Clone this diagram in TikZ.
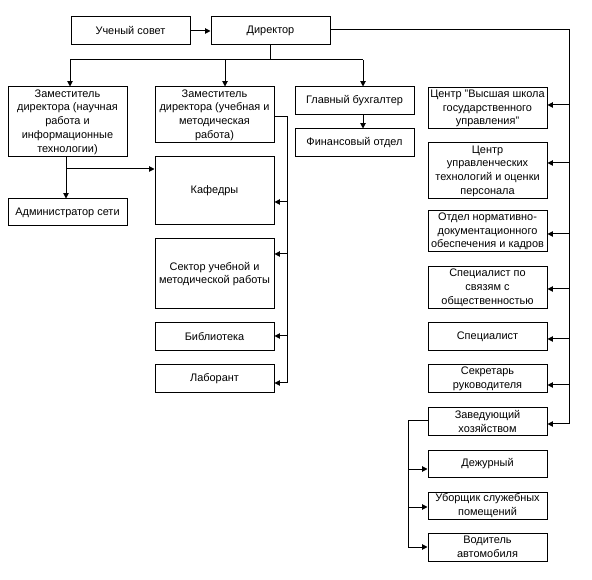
\documentclass[tikz,border=0pt]{standalone}
\usepackage{fontspec}
\setmainfont{Liberation Sans}
\usetikzlibrary{arrows.meta,calc}
\begin{document}
\begin{tikzpicture}[x=0.75pt,y=-0.75pt,
  box/.style={draw,line width=0.75pt,minimum width=89.25pt,inner xsep=1pt,inner ysep=0pt,align=center,
    font=\fontsize{8.2}{10.3}\selectfont},
  ln/.style={line width=0.75pt},
  arr/.style={line width=0.75pt,-{Triangle[length=4pt,width=4pt]}}]
\useasboundingbox (0,0) rectangle (592,580);
\fill[white] (0,0) rectangle (592,580);
% top row
\node[box,minimum height=21pt] (sovet) at (130.5,31) {Ученый совет};
\node[box,minimum height=21pt] (dir) at (270.5,31) {Директор};
% second row
\node[box,minimum height=52.5pt] (zam1) at (67.5,122) {Заместитель\\директора (научная\\работа и\\информационные\\технологии)};
\node[box,minimum height=42pt] (zam2) at (214.5,115) {Заместитель\\директора (учебная и\\методическая\\работа)};
\node[box,minimum height=21pt] (buh) at (354.5,101) {Главный бухгалтер};
\node[box,minimum height=21pt] (fin) at (354.5,143) {Финансовый отдел};
\node[box,minimum height=20.25pt] (adm) at (67.5,212.5) {Администратор сети};
% middle column
\node[box,minimum height=51pt] (kaf) at (214.5,191) {Кафедры};
\node[box,minimum height=52.5pt] (sek1) at (214.5,274) {Сектор учебной и\\методической работы};
\node[box,minimum height=21pt] (bib) at (214.5,337) {Библиотека};
\node[box,minimum height=21pt] (lab) at (214.5,379) {Лаборант};
% right column
\node[box,minimum height=30.75pt] (c1) at (487.5,108.5) {Центр "Высшая школа\\государственного\\управления"};
\node[box,minimum height=42pt] (c2) at (487.5,171) {Центр\\управленческих\\технологий и оценки\\персонала};
\node[box,minimum height=30.75pt] (otd) at (487.5,231.5) {Отдел нормативно-\\документационного\\обеспечения и кадров};
\node[box,minimum height=31.5pt] (spsv) at (487.5,288) {Специалист по\\связям с\\общественностью};
\node[box,minimum height=21pt] (sp) at (487.5,337) {Специалист};
\node[box,minimum height=21pt] (sekr) at (487.5,379) {Секретарь\\руководителя};
\node[box,minimum height=20.25pt] (zav) at (487.5,421.5) {Заведующий\\хозяйством};
\node[box,minimum height=20.25pt] (dej) at (487.5,463.5) {Дежурный};
\node[box,minimum height=20.25pt] (ub) at (487.5,505.5) {Уборщик служебных\\помещений};
\node[box,minimum height=21pt] (vod) at (487.5,547) {Водитель\\автомобиля};
% coordinates
\coordinate (tb) at (270,60);
\coordinate (rb) at (569,30);
\coordinate (mb) at (287,117);
\coordinate (lb) at (408,421);
\coordinate (zb) at (66,169);
% top connectors
\draw[arr] (sovet) -- (dir);
\draw[ln] (dir.south -| tb) -- (tb);
\draw[ln] (70,60) -- (363,60);
\draw[arr] (70,60) -- (zam1.north -| 70,0);
\draw[arr] (225,60) -- (zam2.north -| 225,0);
\draw[arr] (363,60) -- (buh.north -| 363,0);
\draw[arr] (buh.south -| 363,0) -- (fin.north -| 363,0);
% zam1 connectors
\draw[ln] (zam1.south -| zb) -- (zb);
\draw[arr] (zb) -- (kaf.west |- zb);
\draw[arr] (zb) -- (adm.north -| zb);
% zam2 bus
\draw[ln] (zam2.east |- mb) -- (mb) -- (287,383);
\foreach \n/\y in {kaf/202,sek1/254,bib/336,lab/383}
  \draw[arr] (287,\y) -- (\n.east |- 0,\y);
% director right bus
\draw[ln] (dir.east |- rb) -- (rb) -- (569,424);
\foreach \n/\y in {c1/105,c2/163,otd/234,spsv/289,sp/339,sekr/385,zav/424}
  \draw[arr] (569,\y) -- (\n.east |- 0,\y);
% zav bus
\draw[ln] (zav.west |- lb) -- (lb) -- (408,547);
\foreach \n/\y in {dej/469,ub/507,vod/547}
  \draw[arr] (408,\y) -- (\n.west |- 0,\y);
\end{tikzpicture}
\end{document}
